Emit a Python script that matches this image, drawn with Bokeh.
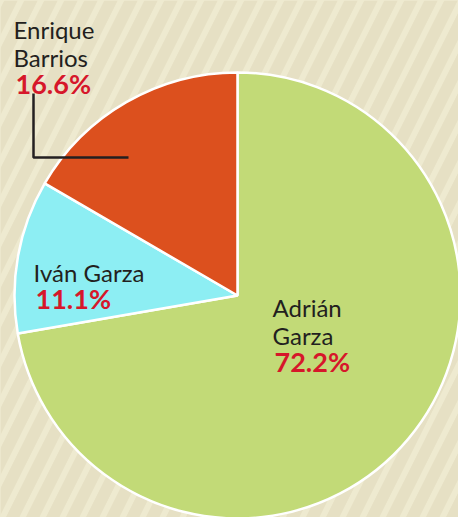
import math
from bokeh.plotting import figure
from bokeh.models import Range1d, BoxAnnotation, GlobalInlineStyleSheet
from bokeh.core.properties import value
from bokeh.embed import file_html
from bokeh.resources import INLINE

# ---- data ----
candidates = ["Adrián Garza", "Iván Garza", "Enrique Barrios"]
shares = [72.2, 11.1, 16.6]
colors = ["#C2DA77", "#8DEEF3", "#DC501E"]
pct_labels = ["72.2%", "11.1%", "16.6%"]

W, H = 458, 517
p = figure(width=W, height=H, output_backend="svg", toolbar_location=None,
           x_range=Range1d(0, W), y_range=Range1d(0, H), min_border=0,
           background_fill_color="#EEEAD0", border_fill_color="#EEEAD0",
           outline_line_color=None)
p.axis.visible = False
p.grid.visible = False
p.stylesheets = [GlobalInlineStyleSheet(
    css="html, body { margin: 0; padding: 0; background: #EEEAD0; overflow: hidden; }")]

stripes = BoxAnnotation(fill_alpha=0, line_color=None, level="underlay",
                        hatch_pattern="/", hatch_color="#E6E0C4",
                        hatch_scale=40, hatch_weight=12, hatch_alpha=1.0)
p.add_layout(stripes)

# pie layout
cx, cy, r = 237, 222, 223
total = sum(shares)
starts, ends = [], []
cum = 0.0
for s in shares:
    a_end = math.pi / 2 - cum / total * 2 * math.pi
    cum += s
    a_start = math.pi / 2 - cum / total * 2 * math.pi
    starts.append(a_start)
    ends.append(a_end)

p.wedge(x=cx, y=cy, radius=r, start_angle=starts, end_angle=ends,
        fill_color=colors, line_color="white", line_width=2.5)

font = value("Lato")
name_lines = {
    "Adrián Garza": ["Adrián", "Garza"],
    "Iván Garza": ["Iván Garza"],
    "Enrique Barrios": ["Enrique", "Barrios"],
}
label_pos = {
    "Adrián Garza": (272, 210),
    "Iván Garza": (33, 245),
    "Enrique Barrios": (13, 488),
}
lh = 28
for name, pct in zip(candidates, pct_labels):
    x0, y0 = label_pos[name]
    lines = name_lines[name]
    for i, ln in enumerate(lines):
        p.text(x=[x0], y=[y0 - i * lh], text=[ln], text_font=font,
               text_font_size="24px", text_color="#231F20",
               text_baseline="alphabetic", text_align="left")
    p.text(x=[x0 + 2], y=[y0 - len(lines) * lh + 2], text=[pct], text_font=font,
           text_font_size="27px", text_font_style="bold", text_color="#D6172A",
           text_baseline="alphabetic", text_align="left")

# leader line for Enrique Barrios
p.line(x=[33, 33, 128], y=[424, 360, 360], line_color="#231F20", line_width=2.5)

open("out.html", "w").write(file_html(p, INLINE))
